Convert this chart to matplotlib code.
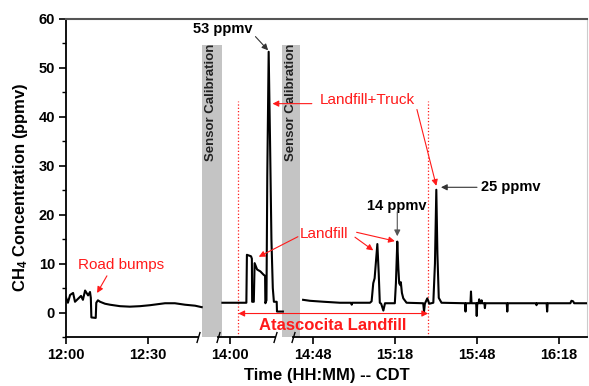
import numpy as np
import matplotlib
matplotlib.use("Agg")
import matplotlib.pyplot as plt
from matplotlib.path import Path

plt.rcParams['font.family'] = ['Liberation Sans', 'DejaVu Sans']
plt.rcParams['mathtext.fontset'] = 'custom'
plt.rcParams['mathtext.rm'] = 'Liberation Sans:bold'
plt.rcParams['mathtext.it'] = 'Liberation Sans:bold'
plt.rcParams['mathtext.bf'] = 'Liberation Sans:bold'

# time in minutes after 12:00 CDT, CH4 in ppmv
t_drive = [0, 0.7, 1.5, 2.6, 3.3, 4.4, 5.5, 6.2, 7.0, 8.1, 8.8, 9.1, 9.3, 10.9, 11.1,
           11.7, 12.5, 14.3, 16.1, 19.8, 23.4, 27.1, 30.8, 36.3, 39.9, 43.6, 47.3, 62]
ch4_drive = [3.1, 2.0, 3.6, 4.0, 2.2, 2.8, 3.4, 2.6, 4.5, 3.5, 4.2, 3.0, -1.0, -1.1, 2.0,
             2.5, 2.2, 1.8, 1.6, 1.3, 1.2, 1.3, 1.5, 1.9, 1.9, 1.6, 1.4, 1.1]

t_site1 = [117.2, 125.9, 126.1, 127.6, 127.9, 128.0, 128.6, 128.9, 129.8, 131.0, 132.2,
           132.7, 132.8, 133.2, 133.5, 134.0, 134.5, 135.0, 135.5, 135.9, 138.6, 139.0, 147]
ch4_site1 = [2.0, 2.0, 11.8, 11.5, 11.0, 2.2, 2.2, 10.1, 8.8, 8.4, 7.7,
             7.5, 1.9, 2.5, 28, 53.3, 35, 15, 5, 2.2, 2.2, 0.2, 0.2]

t_site2 = [164.4, 166.9, 172, 177.9, 182.0, 182.2, 182.4, 188.9, 189.5, 190.1, 190.6, 191.6,
           192.1, 192.5, 193.0, 193.8, 194.4, 198.0, 198.4, 198.9, 199.3, 199.6, 200.0, 200.2,
           200.6, 201.1, 202.3, 208.4, 208.7, 209.0, 209.9, 210.6, 212.1, 212.7, 213.2, 213.6,
           214.1, 215.1, 223.7, 223.9, 224.1, 225.7, 225.9, 226.1, 227.8, 228.0, 228.2, 228.7,
           228.9, 229.1, 229.6, 229.8, 230.0, 230.8, 231.0, 231.2, 239.0, 239.2, 239.4, 249.7,
           249.9, 250.1, 253.6, 253.8, 254.0, 262.3, 262.7, 263.3, 263.7, 268.4]
ch4_site2 = [2.6, 2.4, 2.2, 2.0, 2.0, 1.6, 2.0, 2.0, 2.3, 6.0, 7.0, 14.0,
             8, 2.0, 1.8, 0.4, 1.9, 1.9, 6, 14.5, 9, 6.0, 5.6, 6.2,
             4, 2.9, 2.0, 1.9, 0.2, 1.8, 2.9, 1.8, 2.0, 10, 25.1, 12,
             3, 2.0, 1.9, 0.2, 1.9, 1.9, 4.3, 1.9, 1.9, -0.7, 1.9, 1.9,
             2.7, 1.9, 1.9, 2.5, 1.9, 1.9, 0.9, 1.9, 1.9, 0.2, 1.9, 1.9,
             1.5, 1.9, 1.9, 0.2, 1.9, 1.9, 2.4, 2.3, 1.9, 1.9]

calibrations = [(63, 117.1), (146.3, 163.2)]
landfill_window = (123.0, 210.2)

tick_times = [0, 30, 120, 168, 198, 228, 258]
tick_labels = ['12:00', '12:30', '14:00', '14:48', '15:18', '15:48', '16:18']

# broken time axis: knots (minutes) -> axis position
T_KNOTS = [0, 48.2, 115.6, 136.3, 160.7, 268.4]
P_KNOTS = [0, 131.5, 152, 209, 227, 521]


def fwd(t):
    return np.interp(t, T_KNOTS, P_KNOTS)


def inv(p):
    return np.interp(p, P_KNOTS, T_KNOTS)


RED = '#ff1a1a'

fig = plt.figure(figsize=(5.89, 3.86), dpi=100)
ax = fig.add_axes([66 / 589, 1 - 337 / 386, 521 / 589, 318 / 386])
ax.set_xscale('function', functions=(fwd, inv))
ax.set_xlim(0, 268.4)
ax.set_ylim(-5, 60)

# calibration bands
for (a, b) in calibrations:
    ax.fill_between([a, b], -5, 54.7, color='#c4c4c4', lw=0, zorder=1)
ax.text(92.6, 43, 'Sensor Calibration', rotation=90, ha='center', va='center',
        fontsize=9.5, fontweight='bold', color='#222222', zorder=3)
ax.text(158.6, 43, 'Sensor Calibration', rotation=90, ha='center', va='center',
        fontsize=9.5, fontweight='bold', color='#222222', zorder=3)

# traces
for tt, cc in [(t_drive, ch4_drive), (t_site1, ch4_site1), (t_site2, ch4_site2)]:
    ax.plot(tt, cc, color='black', lw=1.5, zorder=4)

# landfill window
ax.vlines(landfill_window, -5, 43.2, colors=RED, linestyles=':', lw=0.9, zorder=2)
ax.annotate('', xy=(landfill_window[0], -0.2), xytext=(landfill_window[1], -0.2),
            arrowprops=dict(arrowstyle='<|-|>', color=RED, lw=0.8, mutation_scale=9,
                            shrinkA=0, shrinkB=0), zorder=5)
ax.text(175.3, -2.6, 'Atascocita Landfill', color=RED, fontsize=12, fontweight='bold',
        ha='center', va='center', zorder=5)

# annotations
def arrow(start, end, color):
    ax.annotate('', xy=end, xytext=start,
                arrowprops=dict(arrowstyle='-|>', color=color, lw=0.8, mutation_scale=9,
                                shrinkA=0, shrinkB=0), zorder=5)

ax.text(117.4, 57.9, '53 ppmv', fontsize=10.5, fontweight='bold', ha='center', va='center')
arrow((129.2, 56.4), (133.8, 53.6), '#333333')

ax.text(187.8, 43.5, 'Landfill+Truck', fontsize=11, color=RED, ha='center', va='center')
arrow((167.6, 42.7), (135.4, 42.7), RED)
arrow((206.1, 41.5), (213.2, 25.9), RED)

ax.text(240.5, 25.6, '25 ppmv', fontsize=10.5, fontweight='bold', ha='center', va='center')
arrow((228.1, 25.6), (214.9, 25.6), '#333333')

ax.text(198.8, 21.8, '14 ppmv', fontsize=10.5, fontweight='bold', ha='center', va='center')
arrow((198.9, 20.6), (198.9, 15.6), '#555555')

ax.text(172.0, 16.1, 'Landfill', fontsize=11, color=RED, ha='center', va='center')
arrow((162.5, 15.5), (130.4, 11.4), RED)
arrow((183.4, 15.4), (190.1, 12.7), RED)
arrow((184.0, 16.4), (198.0, 14.6), RED)

ax.text(20.1, 9.7, 'Road bumps', fontsize=11, color=RED, ha='center', va='center')
arrow((15.0, 7.5), (11.4, 4.0), RED)

# axes styling
ax.set_xticks(tick_times)
ax.set_xticklabels(tick_labels)
ax.xaxis.set_minor_locator(matplotlib.ticker.NullLocator())
ax.set_yticks(np.arange(0, 61, 10))
ax.yaxis.set_minor_locator(matplotlib.ticker.MultipleLocator(5))
ax.tick_params(axis='both', which='major', direction='out', length=5, width=1.2,
               labelsize=10.5, pad=3)
ax.tick_params(axis='y', which='minor', direction='out', length=3, width=1.0)
for lab in ax.get_xticklabels() + ax.get_yticklabels():
    lab.set_fontweight('bold')

ax.spines['left'].set_linewidth(1.3)
ax.spines['top'].set_color('#555555')
ax.spines['top'].set_linewidth(1.5)
ax.spines['right'].set_color('#cccccc')
ax.spines['right'].set_linewidth(0.8)
ax.spines['bottom'].set_visible(False)

# broken bottom axis with slash marks
xt = ax.get_xaxis_transform()
for a, b in [(0, T_KNOTS[1]), (T_KNOTS[2], T_KNOTS[3]), (T_KNOTS[4], T_KNOTS[5])]:
    ax.plot([a, b], [0, 0], transform=xt, color='black', lw=1.3, clip_on=False, zorder=6)
slash = Path([(-0.3, -1), (0.3, 1)], [Path.MOVETO, Path.LINETO])
ax.plot(T_KNOTS[1:5], [0] * 4, transform=xt, ls='none', marker=slash, markersize=8,
        markeredgecolor='black', markeredgewidth=1.0, clip_on=False, zorder=7)

ax.set_xlabel('Time (HH:MM) -- CDT', fontsize=12, fontweight='bold')
ax.xaxis.set_label_coords(0.5, -0.097)
ax.set_ylabel('CH$_4$ Concentration (ppmv)', fontsize=12, fontweight='bold')
ax.yaxis.set_label_coords(-0.069, 0.47)

fig.savefig('out.png', dpi=100)
